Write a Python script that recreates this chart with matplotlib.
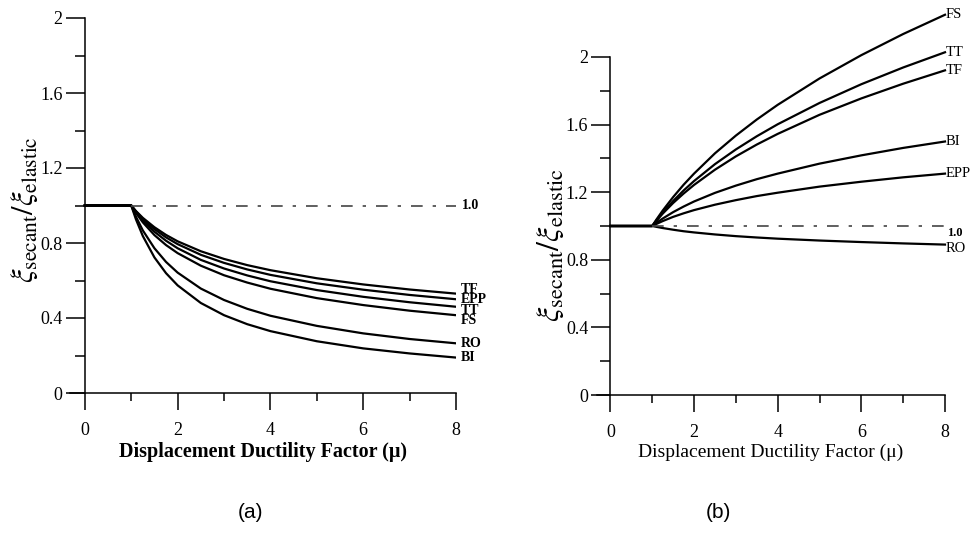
import matplotlib
matplotlib.use("Agg")
import matplotlib.pyplot as plt
from matplotlib.ticker import FixedLocator

plt.rcParams["mathtext.fontset"] = "stix"

# ---------------- data ----------------
mu = [0, 1, 1.1, 1.25, 1.5, 1.75, 2, 2.5, 3, 3.5, 4, 5, 6, 7, 8]

# panel (a): initial-stiffness based ratio
a_TF  = [1.0, 1.0, 0.971, 0.934, 0.884, 0.843, 0.809, 0.756, 0.715, 0.682, 0.655, 0.612, 0.579, 0.552, 0.530]
a_EPP = [1.0, 1.0, 0.969, 0.928, 0.874, 0.830, 0.794, 0.737, 0.694, 0.659, 0.630, 0.585, 0.551, 0.523, 0.500]
a_TT  = [1.0, 1.0, 0.965, 0.920, 0.860, 0.812, 0.772, 0.710, 0.664, 0.627, 0.596, 0.549, 0.513, 0.484, 0.460]
a_FS  = [1.0, 1.0, 0.961, 0.910, 0.842, 0.789, 0.746, 0.679, 0.628, 0.589, 0.556, 0.506, 0.469, 0.439, 0.415]
a_RO  = [1.0, 1.0, 0.941, 0.867, 0.772, 0.699, 0.642, 0.557, 0.496, 0.449, 0.412, 0.358, 0.318, 0.288, 0.265]
a_BI  = [1.0, 1.0, 0.927, 0.837, 0.723, 0.639, 0.574, 0.480, 0.415, 0.367, 0.330, 0.276, 0.238, 0.211, 0.189]

# panel (b): tangent-stiffness based ratio
b_FS  = [1.0, 1.0, 1.038, 1.091, 1.171, 1.244, 1.310, 1.430, 1.535, 1.630, 1.717, 1.873, 2.011, 2.136, 2.250]
b_TT  = [1.0, 1.0, 1.033, 1.079, 1.148, 1.210, 1.266, 1.366, 1.453, 1.531, 1.602, 1.728, 1.839, 1.938, 2.028]
b_TF  = [1.0, 1.0, 1.030, 1.073, 1.136, 1.192, 1.243, 1.333, 1.412, 1.482, 1.545, 1.658, 1.755, 1.842, 1.921]
b_BI  = [1.0, 1.0, 1.019, 1.044, 1.082, 1.115, 1.145, 1.196, 1.239, 1.277, 1.310, 1.369, 1.418, 1.462, 1.500]
b_EPP = [1.0, 1.0, 1.012, 1.029, 1.054, 1.075, 1.094, 1.126, 1.153, 1.177, 1.197, 1.233, 1.262, 1.288, 1.310]
b_RO  = [1.0, 1.0, 0.995, 0.988, 0.978, 0.969, 0.962, 0.950, 0.940, 0.932, 0.925, 0.914, 0.905, 0.897, 0.890]

ref_x = [1, 8]
ref_y = [1.0, 1.0]

a_series = [("TF", a_TF), ("EPP", a_EPP), ("TT", a_TT), ("FS", a_FS), ("RO", a_RO), ("BI", a_BI)]
b_series = [("FS", b_FS), ("TT", b_TT), ("TF", b_TF), ("BI", b_BI), ("EPP", b_EPP), ("RO", b_RO)]

xticks = [0, 2, 4, 6, 8]
xminor = [1, 3, 5, 7]
yticks = [0, 0.4, 0.8, 1.2, 1.6, 2.0]
yminor = [0.2, 0.6, 1.0, 1.4, 1.8]
ytick_labels = ["0", "0.4", "0.8", "1.2", "1.6", "2"]

# ---------------- figure ----------------
serif = "Liberation Serif"
fig = plt.figure(figsize=(9.71, 5.47), dpi=100)

ax1 = fig.add_axes([70 / 971, 154 / 547, 386 / 971, 375 / 547])
ax2 = fig.add_axes([597 / 971, 152 / 547, 348 / 971, 388.7 / 547])


def style(ax, ylim_top, xlabel_weight, xlabel_size, ylabel_size, ylabel_x, ylabel_y):
    ax.set_xlim(-0.32, 8)
    ax.set_ylim(0, ylim_top)
    for s in ("top", "right"):
        ax.spines[s].set_visible(False)
    ax.spines["left"].set_position(("data", 0))
    ax.spines["left"].set_bounds(0, 2)
    ax.spines["left"].set_linewidth(1.1)
    ax.spines["bottom"].set_linewidth(1.1)
    ax.set_xticks(xticks)
    ax.set_xticklabels([str(t) for t in xticks], fontfamily=serif, fontsize=13)
    ax.set_yticks(yticks)
    ax.set_yticklabels(ytick_labels, fontfamily=serif, fontsize=13)
    ax.xaxis.set_minor_locator(FixedLocator(xminor))
    ax.yaxis.set_minor_locator(FixedLocator(yminor))
    ax.tick_params(axis="x", which="major", direction="out", length=12, width=1.1, pad=9)
    ax.tick_params(axis="x", which="minor", direction="out", length=6, width=1.1)
    ax.tick_params(axis="y", which="major", direction="out", length=14, width=1.1, pad=2)
    ax.tick_params(axis="y", which="minor", direction="out", length=7, width=1.1)
    ax.set_xlabel("Displacement Ductility Factor (\u03bc)", fontfamily=serif,
                  fontsize=xlabel_size, fontweight=xlabel_weight, labelpad=2)
    ax.set_ylabel(r"$\xi_{\mathrm{secant}}/\xi_{\mathrm{elastic}}$", fontsize=ylabel_size)
    ax.yaxis.set_label_coords(ylabel_x, ylabel_y)


style(ax1, 2.0, "bold", 14.5, 22, -0.078, 0.49)
style(ax2, 2.3, "normal", 14, 23, -0.09, 0.385)

# panel (a)
for name, vals in a_series:
    ax1.plot(mu, vals, color="black", lw=1.6)
ax1.plot(ref_x, ref_y, color="#444444", lw=1.2, linestyle=(0, (7, 6, 2, 6)))
ax1.text(8.12, 1.0, "1.0", fontfamily=serif, fontsize=10, fontweight="bold", va="center", ha="left")
a_offsets = {"TF": 0.02, "EPP": 0.0, "TT": -0.02, "FS": -0.03, "RO": 0.0, "BI": 0.0}
for name, vals in a_series:
    ax1.text(8.1, vals[-1] + a_offsets[name], name, fontfamily=serif, fontsize=10,
             fontweight="bold", va="center", ha="left", clip_on=False)

# panel (b)
for name, vals in b_series:
    ax2.plot(mu, vals, color="black", lw=1.6, clip_on=False)
ax2.plot(ref_x, ref_y, color="#444444", lw=1.2, linestyle=(0, (7, 6, 2, 6)))
ax2.text(8.05, 0.96, "1.0", fontfamily=serif, fontsize=9, fontweight="bold", va="center", ha="left")
for name, vals in b_series:
    off = -0.025 if name == "RO" else 0.0
    ax2.text(8.02, vals[-1] + off, name, fontfamily=serif, fontsize=10.5,
             va="center", ha="left", clip_on=False)

fig.text(250 / 971, 1 - 513 / 547, "(a)", fontfamily="Liberation Sans", fontsize=15, ha="center", va="center")
fig.text(718 / 971, 1 - 513 / 547, "(b)", fontfamily="Liberation Sans", fontsize=15, ha="center", va="center")

fig.savefig("out.png", dpi=100)
